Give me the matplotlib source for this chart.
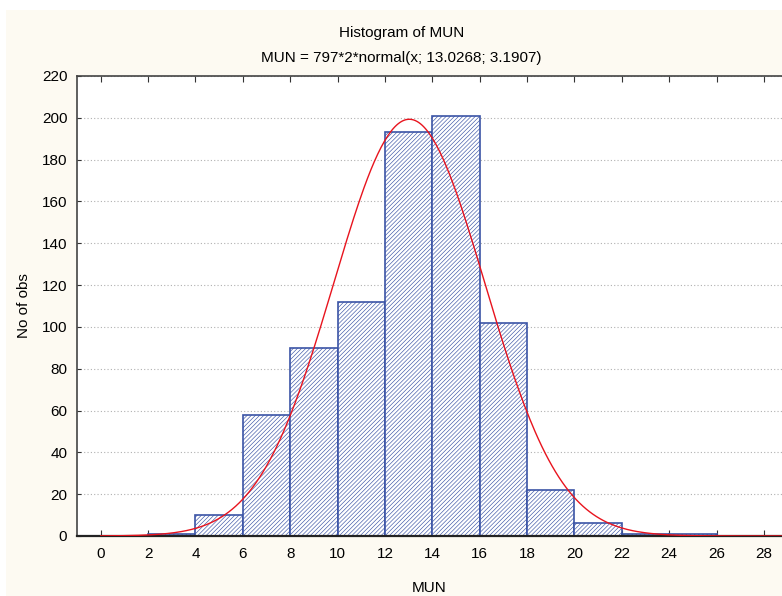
import numpy as np
import matplotlib
matplotlib.use("Agg")
import matplotlib.pyplot as plt
from matplotlib.patches import Rectangle

# ==========================================
# DATA
# ==========================================

bin_edges = [2, 4, 6, 8, 10, 12, 14, 16, 18, 20, 22, 24, 26]
counts = [1, 10, 58, 90, 112, 193, 201, 102, 22, 6, 1, 1]

n_obs = 797
bin_width = 2
mu = 13.0268
sigma = 3.1907

x_ticks = list(range(0, 30, 2))
y_ticks = list(range(0, 240, 20))

# ==========================================
# STYLE
# ==========================================

plt.rcParams["font.family"] = ["Liberation Sans", "DejaVu Sans"]
plt.rcParams["hatch.linewidth"] = 0.45
plt.rcParams["hatch.color"] = "#4a64b0"

bg = "#fdfaf2"
edge = "#3b54a6"
fs = 11

fig = plt.figure(figsize=(7.82, 5.96), dpi=100, facecolor="white")

# cream panel, with a thin white strip at top and left
fig.patches.append(Rectangle((6 / 782, 0), 1, 1 - 10 / 596,
                             transform=fig.transFigure, facecolor=bg,
                             edgecolor="none", zorder=-10))

ax = fig.add_axes([0.0985, 0.1007, 0.9015, 0.7718])
ax.set_facecolor("white")

# ==========================================
# BARS
# ==========================================

lefts = bin_edges[:-1]
ax.bar(
    lefts,
    counts,
    width=bin_width,
    align="edge",
    facecolor="white",
    edgecolor=edge,
    linewidth=1.2,
    hatch="////////",
    zorder=2
)

# ==========================================
# NORMAL CURVE
# ==========================================

xs = np.linspace(0, 28.8, 400)
ys = n_obs * bin_width * np.exp(-0.5 * ((xs - mu) / sigma) ** 2) / (sigma * np.sqrt(2 * np.pi))
ax.plot(xs, ys, color="#e8141e", linewidth=1.0, zorder=3)

# ==========================================
# AXES
# ==========================================

ax.set_xlim(-1, 28.76)
ax.set_ylim(0, 220)
ax.set_xticks(x_ticks)
ax.set_yticks(y_ticks)

ax.yaxis.grid(True, linestyle=(0, (1, 2)), color="#b0b0b0", linewidth=0.8, zorder=0)

ax.tick_params(axis="x", direction="in", top=True, length=4, labelsize=fs, pad=8, color="#333333")
ax.tick_params(axis="y", direction="in", length=3, labelsize=fs, pad=7, color="#333333")

for side in ["top", "left"]:
    ax.spines[side].set_linewidth(1.2)
    ax.spines[side].set_color("#444444")
ax.spines["bottom"].set_linewidth(1.6)
ax.spines["bottom"].set_color("#222222")
ax.spines["right"].set_visible(False)

ax.set_xlabel("MUN", fontsize=fs)
ax.xaxis.label.set_va("center")
ax.xaxis.set_label_coords(0.5, -0.113)

ax.set_ylabel("No of obs", fontsize=fs)
ax.yaxis.label.set_va("center")
ax.yaxis.set_label_coords(-0.075, 0.5)

fig.text(0.513, 0.945, "Histogram of MUN", ha="center", va="center", fontsize=fs)
fig.text(0.513, 0.903, "MUN = 797*2*normal(x; 13.0268; 3.1907)", ha="center", va="center", fontsize=fs)

fig.savefig("out.png", dpi=100, facecolor="white")
